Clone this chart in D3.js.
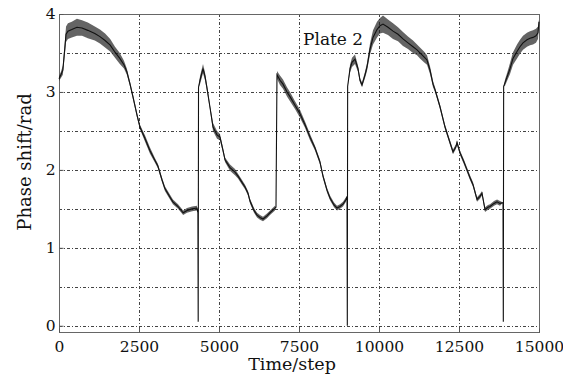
<!DOCTYPE html>
<html><head><meta charset="utf-8">
<script src="https://cdn.jsdelivr.net/npm/d3@7"></script>
<style>html,body{margin:0;padding:0;background:#fff;}svg{display:block;}</style>
</head><body><svg id="c" width="563" height="377"></svg>
<script>
// ---- data ----
const timeSteps = [
  0, 60, 120, 190, 220, 280, 400, 560, 720, 900, 1120, 1280, 1440, 1600, 1750, 1900, 2030, 2120, 2220, 2310,
  2440, 2530, 2690, 2840, 3000, 3090, 3220, 3310, 3470, 3560, 3720, 3880, 4000, 4160, 4310, 4340, 4350, 4360,
  4406, 4500, 4563, 4625, 4719, 4813, 4938, 5031, 5125, 5188, 5344, 5500, 5594, 5719, 5813, 5906, 5969, 6094,
  6188, 6281, 6375, 6500, 6594, 6750, 6781,
  6812, 6906, 7000, 7125, 7219, 7375, 7531, 7688, 7844, 8000, 8156, 8250, 8375, 8469, 8594, 8688, 8781, 8875,
  8969, 9000, 9010, 9020,
  9094, 9156, 9250, 9344, 9406, 9469, 9563, 9625, 9719, 9813, 9938, 10031, 10125, 10281, 10438, 10594, 10750,
  10906, 11063, 11188, 11281, 11406, 11500, 11594, 11688, 11750, 11906, 12063, 12219, 12313, 12406, 12438,
  12531, 12656, 12750, 12844, 12938, 13063, 13156, 13219, 13313, 13406, 13469, 13594, 13688, 13781, 13875,
  13885, 13895,
  13938, 14000, 14094, 14188, 14313, 14406, 14500, 14625, 14719, 14813, 14906, 14969, 15000
];
const phaseShift = [
  3.17, 3.22, 3.28, 3.6, 3.74, 3.78, 3.8, 3.83, 3.82, 3.79, 3.75, 3.71, 3.66, 3.6, 3.51, 3.43, 3.35, 3.26, 3.1, 2.94,
  2.7, 2.55, 2.4, 2.25, 2.12, 2.05, 1.87, 1.76, 1.65, 1.59, 1.53, 1.45, 1.48, 1.5, 1.51, 1.45, 0.05, 3.06,
  3.15, 3.3, 3.2, 3.05, 2.8, 2.55, 2.45, 2.42, 2.25, 2.13, 2.03, 1.97, 1.92, 1.84, 1.78, 1.7, 1.6, 1.48,
  1.42, 1.39, 1.37, 1.41, 1.45, 1.51, 1.52,
  3.22, 3.15, 3.1, 3.0, 2.94, 2.83, 2.72, 2.58, 2.42, 2.28, 2.1, 1.92, 1.74, 1.64, 1.55, 1.51, 1.53, 1.56,
  1.62, 1.66, 0.0, 3.07,
  3.3, 3.38, 3.42, 3.3, 3.15, 3.09, 3.22, 3.32, 3.55, 3.7, 3.8, 3.85, 3.87, 3.83, 3.78, 3.74, 3.68,
  3.63, 3.58, 3.54, 3.5, 3.45, 3.41, 3.28, 3.1, 3.03, 2.81, 2.55, 2.35, 2.23, 2.3, 2.35,
  2.22, 2.1, 2.0, 1.9, 1.81, 1.62, 1.66, 1.7, 1.49, 1.52, 1.53, 1.57, 1.59, 1.57, 1.58,
  0.05, 3.07,
  3.12, 3.19, 3.3, 3.43, 3.52, 3.58, 3.63, 3.67, 3.69, 3.7, 3.72, 3.76, 3.9
];
// half-width of the noisy band around the trace
const noiseSpread = [
  0.03, 0.04, 0.06, 0.09, 0.1, 0.1, 0.1, 0.11, 0.1, 0.1, 0.09, 0.09, 0.09, 0.08, 0.07, 0.07, 0.05, 0.04, 0.03, 0.03,
  0.03, 0.03, 0.04, 0.04, 0.03, 0.03, 0.03, 0.03, 0.03, 0.03, 0.03, 0.03, 0.03, 0.03, 0.03, 0.0, 0.0, 0.0,
  0.05, 0.06, 0.05, 0.04, 0.03, 0.05, 0.05, 0.04, 0.03, 0.03, 0.04, 0.04, 0.03, 0.03, 0.03, 0.03, 0.03, 0.03,
  0.03, 0.03, 0.03, 0.03, 0.03, 0.03, 0.0,
  0.05, 0.06, 0.06, 0.06, 0.06, 0.05, 0.05, 0.04, 0.04, 0.03, 0.03, 0.03, 0.03, 0.03, 0.03, 0.03, 0.03, 0.03,
  0.03, 0.0, 0.0, 0.0,
  0.05, 0.06, 0.06, 0.04, 0.03, 0.03, 0.04, 0.05, 0.07, 0.09, 0.1, 0.1, 0.11, 0.1, 0.1, 0.09, 0.09,
  0.08, 0.08, 0.07, 0.07, 0.07, 0.06, 0.05, 0.04, 0.03, 0.03, 0.03, 0.03, 0.03, 0.03, 0.03,
  0.03, 0.03, 0.03, 0.03, 0.03, 0.03, 0.03, 0.03, 0.03, 0.03, 0.03, 0.03, 0.03, 0.03, 0.0,
  0.0, 0.0,
  0.04, 0.05, 0.07, 0.08, 0.09, 0.09, 0.09, 0.09, 0.09, 0.09, 0.09, 0.08, 0.03
];
const xTicks = [0, 2500, 5000, 7500, 10000, 12500, 15000];
const yTicks = [0, 1, 2, 3, 4];
const yGrid = [0, 0.5, 1, 1.5, 2, 2.5, 3, 3.5, 4];
const xLabel = "Time/step";
const yLabel = "Phase shift/rad";
const plateLabel = "Plate 2";

// ---- drawing ----
(function () {
const svg = d3.select("#c");
const pL = 59, pR = 539, pT = 14, pB = 332;
const x = d3.scaleLinear().domain([0, 15000]).range([pL, pR]);
const y = d3.scaleLinear().domain([-0.08, 4]).range([pB, pT]);
const font = "'DejaVu Serif', serif";

// grid
const grid = svg.append("g").attr("stroke", "#444").attr("stroke-width", 1)
  .attr("stroke-dasharray", "3,2,1,2").attr("fill", "none");
xTicks.slice(1, -1).forEach(t => {
  grid.append("line").attr("x1", Math.round(x(t)) + 0.5).attr("x2", Math.round(x(t)) + 0.5)
    .attr("y1", pT).attr("y2", pB);
});
yGrid.slice(0, -1).forEach(v => {
  grid.append("line").attr("y1", Math.round(y(v)) + 0.5).attr("y2", Math.round(y(v)) + 0.5)
    .attr("x1", pL).attr("x2", pR);
});

// frame
svg.append("rect").attr("x", pL + 0.5).attr("y", pT + 0.5)
  .attr("width", pR - pL).attr("height", pB - pT)
  .attr("fill", "none").attr("stroke", "#666").attr("stroke-width", 1);

// axes (ticks inward, labels outside)
const xAxis = d3.axisBottom(x).tickValues(xTicks).tickSize(-4).tickPadding(8).tickFormat(d3.format("d"));
const gx = svg.append("g").attr("transform", `translate(0,${pB + 0.5})`).call(xAxis);
gx.select(".domain").remove();
gx.selectAll("line").attr("stroke", "#555");
gx.selectAll("text").attr("font-family", font).attr("font-size", 15.5).attr("fill", "#111");

const yAxis = d3.axisLeft(y).tickValues(yTicks).tickSize(-4).tickPadding(4).tickFormat(d3.format("d"));
const gy = svg.append("g").attr("transform", `translate(${pL + 0.5},0)`).call(yAxis);
gy.select(".domain").remove();
gy.selectAll("line").attr("stroke", "#555");
gy.selectAll("text").attr("font-family", font).attr("font-size", 15.5).attr("fill", "#111");

// data
const pts = timeSteps.map((t, i) => ({ t, v: phaseShift[i], s: noiseSpread[i] }));
const band = d3.area().x(d => x(d.t)).y0(d => y(d.v - d.s)).y1(d => y(d.v + d.s));
svg.append("path").datum(pts).attr("d", band).attr("fill", "#222").attr("fill-opacity", 0.7);
const line = d3.line().x(d => x(d.t)).y(d => y(d.v));
svg.append("path").datum(pts).attr("d", line).attr("fill", "none")
  .attr("stroke", "#111").attr("stroke-width", 1.1);

// labels
svg.append("text").attr("x", 292).attr("y", 370).attr("text-anchor", "middle")
  .attr("font-family", font).attr("font-size", 17.5).attr("fill", "#111").text(xLabel);
svg.append("text").attr("transform", "translate(31,162) rotate(-90)").attr("text-anchor", "middle")
  .attr("font-family", font).attr("font-size", 18).attr("fill", "#111").text(yLabel);
svg.append("text").attr("x", 303).attr("y", 45)
  .attr("font-family", font).attr("font-size", 17).attr("fill", "#111").text(plateLabel);
})();
</script></body></html>
